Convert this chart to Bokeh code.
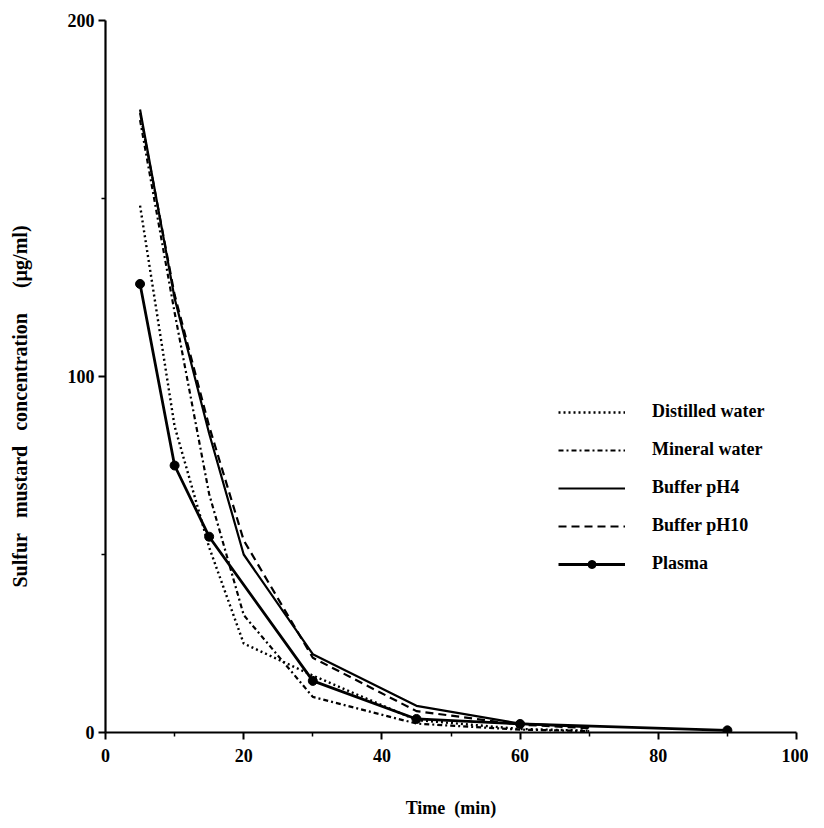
from bokeh.plotting import figure
from bokeh.models import Range1d, Legend, LegendItem, FixedTicker
from bokeh.embed import file_html
from bokeh.resources import INLINE

# ---- data ----
time_w = [5, 10, 15, 20, 30, 45, 60, 70]
distilled = [148, 86, 52, 25, 16, 3.5, 1.0, 0.5]
mineral = [172, 118, 67, 33, 10, 2.5, 0.8, 0.4]
buffer_ph4 = [175, 122, 84, 50, 22, 7.5, 2.5, 1.5]
buffer_ph10 = [174, 123, 86, 54, 21, 6.0, 2.2, 1.2]
plasma_t = [5, 10, 15, 30, 45, 60, 90]
plasma = [126, 75, 55, 14.5, 3.8, 2.4, 0.6]

x_major = [0, 20, 40, 60, 80, 100]
x_minor = [10, 30, 50, 70, 90]
y_major = [0, 100, 200]
y_minor = [50, 150]

FONT = "Liberation Serif"
SP = "\u00a0"

p = figure(width=808, height=822, output_backend="svg", toolbar_location=None,
           x_range=Range1d(0, 100), y_range=Range1d(0, 200),
           min_border_left=105, min_border_right=12, min_border_top=20, min_border_bottom=90)
p.outline_line_color = None
p.xgrid.visible = False
p.ygrid.visible = False
p.background_fill_color = "white"

for ax in (p.xaxis[0], p.yaxis[0]):
    ax.axis_line_color = "black"
    ax.axis_line_width = 2.2
    ax.major_tick_line_color = "black"
    ax.major_tick_line_width = 2
    ax.minor_tick_line_color = "black"
    ax.minor_tick_line_width = 1.5
    ax.major_tick_out = 7
    ax.major_tick_in = 0
    ax.minor_tick_out = 4
    ax.minor_tick_in = 0
    ax.major_label_text_font = FONT
    ax.major_label_text_font_style = "bold"
    ax.major_label_text_font_size = "18px"
    ax.major_label_text_color = "black"
    ax.axis_label_text_font = FONT
    ax.axis_label_text_font_style = "bold"
    ax.axis_label_text_font_size = "18px"
    ax.axis_label_text_color = "black"

p.xaxis[0].ticker = FixedTicker(ticks=x_major, minor_ticks=x_minor)
p.yaxis[0].ticker = FixedTicker(ticks=y_major, minor_ticks=y_minor)
p.xaxis[0].axis_label = "Time" + SP * 2 + "(min)"
p.xaxis[0].major_label_standoff = 9
p.xaxis[0].axis_label_standoff = 33
p.yaxis[0].major_label_standoff = 4
p.yaxis[0].axis_label = ("Sulfur" + SP * 3 + "mustard" + SP * 3 + "concentration" + SP * 5
                         + "(\u00b5g/ml)" + SP * 12)
p.yaxis[0].axis_label_text_font_size = "20px"
p.yaxis[0].axis_label_standoff = 34

r_d = p.line(time_w, distilled, line_color="black", line_width=2.4, line_dash="2 3")
r_m = p.line(time_w, mineral, line_color="black", line_width=2.2, line_dash="5 3 2 3")
r_4 = p.line(time_w, buffer_ph4, line_color="black", line_width=2.2)
r_10 = p.line(time_w, buffer_ph10, line_color="black", line_width=2.2, line_dash="8 5")
r_p = p.line(plasma_t, plasma, line_color="black", line_width=2.8)
r_pc = p.scatter(plasma_t, plasma, size=9, fill_color="black", line_color="black")

legend = Legend(items=[
    LegendItem(label="Distilled water", renderers=[r_d]),
    LegendItem(label="Mineral water", renderers=[r_m]),
    LegendItem(label="Buffer pH4", renderers=[r_4]),
    LegendItem(label="Buffer pH10", renderers=[r_10]),
    LegendItem(label="Plasma", renderers=[r_p, r_pc]),
], location=(453, 158))
legend.glyph_width = 67
legend.glyph_height = 20
legend.label_height = 20
legend.spacing = 17
legend.label_standoff = 27
legend.padding = 0
legend.margin = 0
legend.border_line_color = None
legend.background_fill_alpha = 0
legend.label_text_font = FONT
legend.label_text_font_style = "bold"
legend.label_text_font_size = "18px"
legend.label_text_color = "black"
p.add_layout(legend, "center")

open("out.html", "w").write(file_html(p, INLINE))
